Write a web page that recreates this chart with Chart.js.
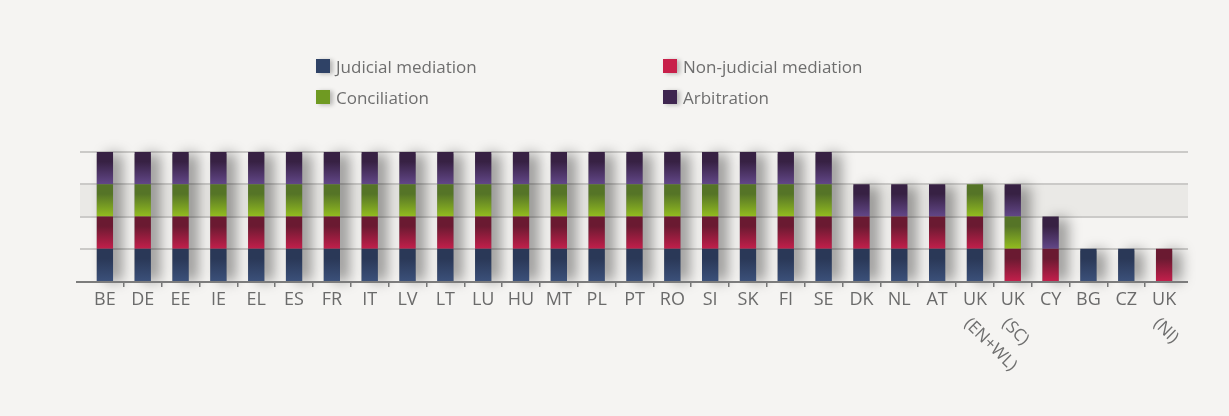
<!DOCTYPE html>
<html>
<head>
<meta charset="utf-8">
<script src="https://cdn.jsdelivr.net/npm/chart.js@4/dist/chart.umd.min.js"></script>
<style>
  html, body { margin: 0; padding: 0; background: #f5f4f2; }
  #wrap { position: relative; width: 1229px; height: 416px; }
  #legend { position: absolute; left: 316px; top: 56px; display: grid;
    grid-template-columns: 347px 300px; row-gap: 11px;
    font-family: "Open Sans", sans-serif; font-size: 17px; color: #6e6e6e; }
  #legend span.item { display: flex; align-items: center; height: 20px; }
  #legend i { display: inline-block; width: 14px; height: 14px; margin-right: 6px;
    box-shadow: 3px 1px 4px rgba(0,0,0,0.25); }
</style>
</head>
<body>
<div id="wrap">
  <canvas id="myChart" width="1229" height="416"></canvas>
  <div id="legend"></div>
</div>
<script>
// data (1 = mechanism available)
const categories = ['BE','DE','EE','IE','EL','ES','FR','IT','LV','LT','LU','HU','MT','PL','PT','RO','SI','SK','FI','SE','DK','NL','AT','UK','UK','CY','BG','CZ','UK'];
const subLabels  = ['','','','','','','','','','','','','','','','','','','','','','','','(EN+WL)','(SC)','','','','(NI)'];

const judicial    = [1,1,1,1,1,1,1,1,1,1,1,1,1,1,1,1,1,1,1,1,1,1,1,1,0,0,1,1,0];
const nonJudicial = [1,1,1,1,1,1,1,1,1,1,1,1,1,1,1,1,1,1,1,1,1,1,1,1,1,1,0,0,1];
const conciliation= [1,1,1,1,1,1,1,1,1,1,1,1,1,1,1,1,1,1,1,1,0,0,0,1,1,0,0,0,0];
const arbitration = [1,1,1,1,1,1,1,1,1,1,1,1,1,1,1,1,1,1,1,1,1,1,1,0,1,1,0,0,0];

const seriesNames = ['Judicial mediation','Non-judicial mediation','Conciliation','Arbitration'];
const yTicks = [1,2,3,4];

// [top colour, bottom colour] for each segment gradient
const palette = [
  ['#2a3857', '#3b5079'],
  ['#6a1a31', '#c21f4b'],
  ['#557427', '#93bd1f'],
  ['#372143', '#624788']
];
const legendColors = ['#2f4266', '#c8204a', '#6f9a22', '#3f2650'];

const allSeries = [judicial, nonJudicial, conciliation, arbitration];

function segmentFill(d) {
  return (ctx) => {
    const chart = ctx.chart;
    const y = chart.scales.y;
    if (!chart.chartArea || !y || ctx.dataIndex === undefined) return palette[d][1];
    const i = ctx.dataIndex;
    let base = 0;
    for (let k = 0; k < d; k++) base += allSeries[k][i];
    const v = allSeries[d][i];
    if (!v) return palette[d][1];
    const top = y.getPixelForValue(base + v);
    const bot = y.getPixelForValue(base);
    const g = chart.ctx.createLinearGradient(0, top, 0, bot);
    g.addColorStop(0, palette[d][0]);
    g.addColorStop(0.3, palette[d][0]);
    g.addColorStop(1, palette[d][1]);
    return g;
  };
}

// gridlines, band and bar shadows behind the bars
const backdrop = {
  id: 'backdrop',
  beforeDatasetsDraw(chart) {
    const {ctx, scales: {x, y}} = chart;
    const left = 80, right = 1188;
    ctx.save();
    ctx.fillStyle = '#eae9e6';
    ctx.fillRect(left, y.getPixelForValue(3), right - left, y.getPixelForValue(2) - y.getPixelForValue(3));
    ctx.strokeStyle = '#cbcac8';
    ctx.lineWidth = 2;
    yTicks.forEach(t => {
      const py = Math.round(y.getPixelForValue(t));
      ctx.beginPath(); ctx.moveTo(left, py); ctx.lineTo(right, py); ctx.stroke();
    });
    const meta = chart.getDatasetMeta(0);
    categories.forEach((c, i) => {
      let total = 0;
      allSeries.forEach(s => total += s[i]);
      const bar = meta.data[i];
      const w = bar.width;
      const top = y.getPixelForValue(total);
      const bot = y.getPixelForValue(0);
      ctx.save();
      ctx.shadowColor = 'rgba(0,0,0,0.4)';
      ctx.shadowBlur = 14;
      ctx.shadowOffsetX = 9;
      ctx.fillStyle = '#888';
      ctx.fillRect(bar.x - w / 2, top + 2, w, bot - top - 2);
      ctx.restore();
    });
    ctx.strokeStyle = '#7c7c7c';
    ctx.lineWidth = 2;
    const by = Math.round(y.getPixelForValue(0)) + 1;
    ctx.beginPath(); ctx.moveTo(76, by); ctx.lineTo(right, by); ctx.stroke();
    ctx.restore();
  },
  afterDraw(chart) {
    const {ctx, scales: {x}} = chart;
    ctx.save();
    ctx.font = '17px "Open Sans", sans-serif';
    ctx.fillStyle = '#6e6e6e';
    ctx.textAlign = 'left';
    ctx.textBaseline = 'middle';
    subLabels.forEach((s, i) => {
      if (!s) return;
      const px = x.getPixelForTick(i);
      ctx.save();
      ctx.translate(px - 8, 321);
      ctx.rotate(Math.PI / 4);
      ctx.fillText(s, 0, 0);
      ctx.restore();
    });
    ctx.restore();
  }
};

new Chart(document.getElementById('myChart').getContext('2d'), {
  type: 'bar',
  data: {
    labels: categories,
    datasets: allSeries.map((s, d) => ({
      label: seriesNames[d],
      data: s,
      backgroundColor: segmentFill(d),
      borderWidth: 0,
      barPercentage: 0.43,
      categoryPercentage: 1
    }))
  },
  options: {
    responsive: false,
    animation: false,
    layout: { padding: { left: 86, right: 46, top: 152, bottom: 0 } },
    plugins: { legend: { display: false }, tooltip: { enabled: false } },
    scales: {
      x: {
        stacked: true,
        border: { display: false },
        grid: {
          offset: true,
          drawOnChartArea: false,
          tickLength: 6,
          lineWidth: 1.5,
          color: (c) => (c.index === undefined || c.index === 0) ? 'rgba(0,0,0,0)' : '#7c7c7c'
        },
        ticks: {
          color: '#6b6b6b',
          font: { family: '"Open Sans", sans-serif', size: 18 },
          padding: 2,
          maxRotation: 0,
          autoSkip: false
        },
        afterFit: (scale) => { scale.height = 416 - 281; }
      },
      y: {
        stacked: true,
        display: false,
        min: 0,
        max: 4
      }
    }
  },
  plugins: [backdrop]
});

// two-column legend as in the original
const legend = document.getElementById('legend');
[0, 1, 2, 3].forEach(d => {
  const el = document.createElement('span');
  el.className = 'item';
  el.innerHTML = '<i style="background:' + legendColors[d] + '"></i>' + seriesNames[d];
  legend.appendChild(el);
});
</script>
</body>
</html>
